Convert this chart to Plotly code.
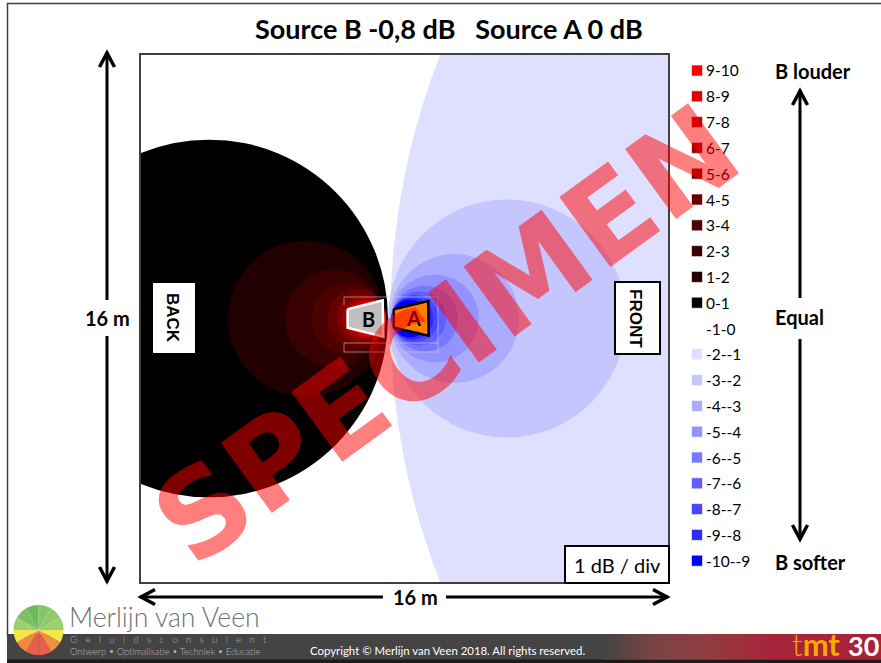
import plotly.graph_objects as go

W, H = 881, 663
# plot frame in page pixels (inside of the 2px frame line)
PL, PR, PT, PB = 141, 668, 55, 582
HALF_SPAN_M = 7.97

TITLE = "Source B -0,8 dB   Source A 0 dB"
# contour bands: outer boundary circle of each band, metres from room centre
red_labels = ["0-1", "1-2", "2-3", "3-4", "4-5", "5-6", "6-7", "7-8", "8-9", "9-10"]
red_colors = ["#000000", "#200000", "#380000", "#4d0000", "#660000", "#800000", "#990000", "#b30000", "#e00000", "#ff0000"]
red_cx = [-5.91, -2.98, -2.13, -1.71, -1.44, -1.32, -1.23, -1.16, -1.10, -1.04]
red_r = [5.41, 2.36, 1.48, 1.09, 0.88, 0.74, 0.66, 0.60, 0.54, 0.48]

blue_labels = ["-2--1", "-3--2", "-4--3", "-5--4", "-6--5", "-7--6", "-8--7", "-9--8", "-10--9"]
blue_colors = ["#dfdfff", "#c6c6ff", "#acacff", "#9393ff", "#7979ff", "#5f5fff", "#4646ff", "#2c2cff", "#0000ff"]
blue_cx = [21.41, 3.10, 1.51, 0.92, 0.62, 0.44, 0.32, 0.23, 0.17]
blue_r = [21.84, 3.60, 1.95, 1.33, 1.00, 0.82, 0.71, 0.64, 0.57]

zero_label = "-1-0"

speaker_b_x = [-1.72, -0.66, -0.64, -1.72, -1.72]
speaker_b_y = [0.28, 0.55, -0.55, -0.28, 0.28]
speaker_a_x = [-0.33, 0.72, 0.73, -0.33, -0.33]
speaker_a_y = [0.28, 0.53, -0.52, -0.27, 0.28]

logo_colors = ["#86c568", "#8fca6c", "#9ccf70", "#f2e64a", "#f0903c", "#e8604a",
               "#e8604a", "#f08a40", "#f2e64a", "#9ccf70", "#7cc062", "#6fb85c"]
logo_values = [1] * 12


def px(x):
    return x / W


def py(y):
    return 1 - y / H


fig = go.Figure()
shapes = []
ann = []


def text(x, y, s, size=14, color="#000", bold=False, anchor="left", angle=0, family="Lato", weight=None):
    f = dict(family=family, size=size, color=color)
    if weight is not None:
        f["weight"] = weight
    elif bold:
        f["weight"] = "bold"
    ann.append(dict(x=px(x), y=py(y), xref="paper", yref="paper", text=s, showarrow=False,
                    xanchor=anchor, yanchor="middle", textangle=angle, font=f, borderpad=0, borderwidth=0))


def rect(x0, y0, x1, y1, fill=None, line=None, lw=0, layer="above"):
    shapes.append(dict(type="rect", xref="paper", yref="paper", x0=px(x0), x1=px(x1), y0=py(y0), y1=py(y1),
                       fillcolor=fill or "rgba(0,0,0,0)", line=dict(color=line or "rgba(0,0,0,0)", width=lw), layer=layer))


def pline(points, color="#000", lw=3, layer="above"):
    d = "M" + " L".join(f"{px(a):.5f},{py(b):.5f}" for a, b in points)
    shapes.append(dict(type="path", xref="paper", yref="paper", path=d,
                       line=dict(color=color, width=lw), layer=layer))


def arrow(x0, y0, x1, y1):
    # straight shaft from (x0,y0) with an open head at (x1,y1)
    pline([(x0, y0), (x1, y1)], lw=3)
    L, w = 15, 7.5
    if x0 == x1:
        s = 1 if y1 < y0 else -1
        pline([(x1 - w, y1 + s * L), (x1, y1 + 1 * s), (x1 + w, y1 + s * L)], lw=3.5)
    else:
        s = 1 if x1 < x0 else -1
        pline([(x1 + s * L, y0 - w), (x1 + 1 * s, y0), (x1 + s * L, y0 + w)], lw=3.5)


# page furniture, under the logo
pline([(881, 3.5), (7.5, 3.5), (7.5, 636)], color="#404040", lw=1.5, layer="below")
rect(7, 634, 881, 660, fill="#444444", layer="below")
rect(7, 659.5, 881, 663, fill="#1c1c1c", layer="below")
stops = [(603, (68, 68, 68)), (653, (122, 68, 68)), (707, (145, 60, 64)), (773, (168, 36, 58)), (881, (168, 34, 54))]
for i in range(len(stops) - 1):
    (a, ca), (b, cb) = stops[i], stops[i + 1]
    for x in range(a, b, 2):
        t = (x - a) / (b - a)
        col = tuple(round(ca[k] + (cb[k] - ca[k]) * t) for k in range(3))
        rect(x, 634, min(x + 3, 881), 659.5, fill=f"rgb{col}", layer="below")

# bands
for cx, r, c in list(zip(blue_cx, blue_r, blue_colors)) + list(zip(red_cx, red_r, red_colors)):
    shapes.append(dict(type="circle", xref="x", yref="y", x0=cx - r, x1=cx + r, y0=-r, y1=r,
                       fillcolor=c, line=dict(width=0), layer="below"))

# speakers
fig.add_trace(go.Scatter(x=speaker_b_x, y=speaker_b_y, mode="lines", fill="toself", fillcolor="#bfbfbf",
                         line=dict(color="#ffffff", width=2.5), hoverinfo="skip", showlegend=False))
fig.add_trace(go.Scatter(x=speaker_a_x, y=speaker_a_y, mode="lines", fill="toself", fillcolor="#ff8000",
                         line=dict(color="#000000", width=2.5), hoverinfo="skip", showlegend=False))

# faint selection frames round the speakers
fc = "rgba(205,205,205,0.6)"
pline([(344, 305), (344, 297), (438, 297), (438, 352), (344, 352), (344, 343), (438, 343)], color=fc, lw=1)
pline([(392, 297), (392, 352)], color=fc, lw=1)

# legend
labels = red_labels[::-1] + [zero_label] + blue_labels
colors = red_colors[::-1] + [None] + blue_colors
for i, (lab, col) in enumerate(zip(labels, colors)):
    y = 70.5 + i * 25.8
    if col:
        rect(691.5, y - 5.5, 702.5, y + 5.5, fill=col, line="rgba(255,255,255,0.6)", lw=1)
    text(705.5, y, lab, size=15.5)

# labels in the room
rect(153, 283, 195, 353, fill="#ffffff")
text(173, 318, "BACK", size=17, bold=True, anchor="center", angle=90, family="Liberation Sans")
rect(615, 282, 660, 354, fill="#ffffff", line="#000000", lw=2)
text(636, 318, "FRONT", size=17, bold=True, anchor="center", angle=90, family="Liberation Sans")
rect(565, 546, 669, 583, fill="#ffffff", line="#000000", lw=2)
text(617, 565, "1 dB / div", size=20, anchor="center")
text(368, 319, "B", size=20, bold=True, anchor="center")
text(413, 318, "A", size=20, bold=True, anchor="center")

# title and dimension arrows
text(449, 29, TITLE, size=27, bold=True, anchor="center")
arrow(107, 300, 107, 52)
arrow(107, 336, 107, 582)
text(107, 318, "16 m", size=20, bold=True, anchor="center")
arrow(383, 597, 140, 597)
arrow(446, 597, 668, 597)
text(415, 597, "16 m", size=20, bold=True, anchor="center")
text(775, 71, "B louder", size=20, bold=True)
text(775, 317, "Equal", size=20, bold=True)
text(775, 562, "B softer", size=20, bold=True)
arrow(800, 298, 800, 90)
arrow(800, 339, 800, 540)

# logo
fig.add_trace(go.Pie(values=logo_values, marker=dict(colors=logo_colors, line=dict(width=0)), sort=False,
                     direction="clockwise", rotation=0, textinfo="none", hoverinfo="skip", showlegend=False,
                     domain=dict(x=[px(13.5), px(63.5)], y=[py(655), py(605)])))
text(69, 617, "Merlijn van Veen", size=26.6, color="#707070", weight=300)
gap = "&nbsp;&nbsp;&nbsp;"
text(70, 638.5, gap.join("Geluidsconsulent"), size=10, color="#a8a8a8", weight=300)
text(70, 651.5, "Ontwerp • Optimalisatie • Techniek • Educatie", size=9.4, color="#b4b4b4", weight=300)
text(310, 650, "Copyright © Merlijn van Veen 2018. All rights reserved.", size=11.4, color="#ffffff")
text(792, 644, '<span style="font-weight:300">t</span><b>mt</b>', size=31, color="#f5a800")
text(848, 645, "<b>30</b>", size=27, color="#ffffff")

# watermark
text(447, 335, "SPECIMEN", size=119, color="rgba(255,0,0,0.5)", bold=True, anchor="center", angle=-36,
     family="DejaVu Sans")

fig.update_layout(
    width=W, height=H, margin=dict(l=0, r=0, t=0, b=0, autoexpand=False),
    paper_bgcolor="#ffffff", plot_bgcolor="#ffffff", showlegend=False,
    xaxis=dict(domain=[PL / W, PR / W], range=[-HALF_SPAN_M, HALF_SPAN_M], showgrid=False, zeroline=False,
               showticklabels=False, ticks="", showline=True, mirror=True, linecolor="#404040", linewidth=2,
               fixedrange=True),
    yaxis=dict(domain=[1 - PB / H, 1 - PT / H], range=[-HALF_SPAN_M, HALF_SPAN_M], showgrid=False, zeroline=False,
               showticklabels=False, ticks="", showline=True, mirror=True, linecolor="#404040", linewidth=2,
               fixedrange=True),
    shapes=shapes, annotations=ann,
)
fig.write_html("out.html", config=dict(displayModeBar=False),
               post_script="document.body.style.margin='0';document.body.style.overflow='hidden';")
